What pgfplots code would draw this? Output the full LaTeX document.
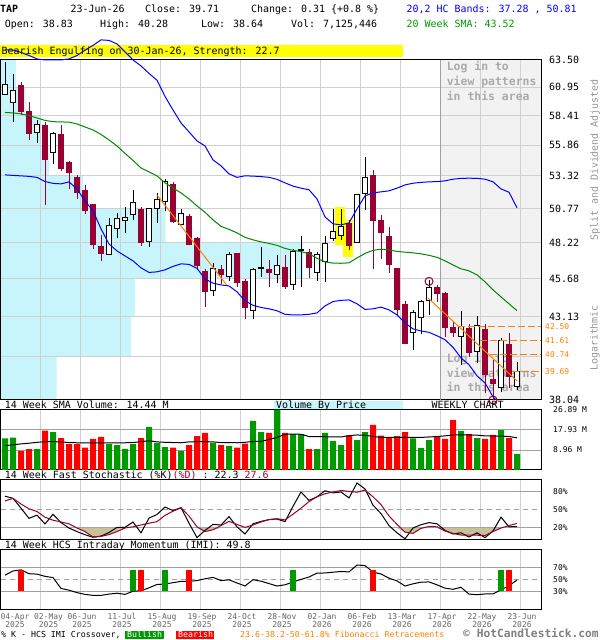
\documentclass[border=0pt]{standalone}
\usepackage{fontspec}
\setmainfont{DejaVu Sans Mono}
\usepackage{pgfplots}
\pgfplotsset{compat=1.18}
\usepackage{pgfplotstable}
\usepgfplotslibrary{fillbetween}

\definecolor{cred}{RGB}{153,0,51}
\definecolor{vred}{RGB}{255,0,0}
\definecolor{vgreen}{RGB}{0,153,0}
\definecolor{bblue}{RGB}{0,0,255}
\definecolor{sgreen}{RGB}{0,136,0}
\definecolor{vbp}{RGB}{200,245,252}
\definecolor{login}{RGB}{242,242,242}
\definecolor{loginline}{RGB}{160,160,160}
\definecolor{logintext}{RGB}{170,170,170}
\definecolor{gridc}{RGB}{208,208,208}
\definecolor{darkgrid}{RGB}{160,160,160}
\definecolor{fib}{RGB}{255,128,0}
\definecolor{tanc}{RGB}{200,192,150}
\definecolor{ylw}{RGB}{255,255,0}
\definecolor{dategray}{RGB}{100,100,100}
\definecolor{sidegray}{RGB}{150,150,150}
\definecolor{copygray}{RGB}{128,128,128}

\pgfplotstableread{
k O H L C
0 60.30 63.30 60.24 61.15
1 59.58 62.17 57.81 60.69
2 61.06 61.43 58.45 58.74
3 58.74 59.58 56.29 56.86
4 56.91 58.01 56.06 57.58
5 57.49 57.86 51.04 54.68
6 55.26 56.95 54.27 56.86
7 56.72 57.58 53.72 53.94
8 54.43 54.56 52.28 53.58
9 53.18 53.40 51.48 51.99
10 52.13 52.60 50.35 50.58
11 51.04 51.10 47.76 48.10
12 47.93 48.78 46.93 47.41
13 47.33 50.05 47.30 49.45
14 49.23 50.40 48.54 50.03
15 49.82 50.91 48.91 50.10
16 50.28 52.21 49.90 51.25
17 50.66 50.91 47.98 48.22
18 48.29 50.80 47.93 50.73
19 50.73 51.95 49.69 51.42
20 51.29 53.05 50.60 52.84
21 52.60 52.86 49.65 49.77
22 49.52 50.73 49.50 50.40
23 50.15 50.35 48.05 48.10
24 48.49 48.66 46.40 46.58
25 46.16 46.33 43.78 44.79
26 44.86 46.79 44.50 46.40
27 46.28 46.63 45.31 45.93
28 45.81 47.53 45.54 47.33
29 47.41 47.45 45.13 45.40
30 45.47 45.63 42.96 43.72
31 43.55 46.40 42.96 46.33
32 46.37 47.89 45.81 46.47
33 46.33 46.98 45.09 46.09
34 45.93 47.33 45.35 46.56
35 46.47 47.33 44.97 45.13
36 45.24 47.74 44.90 47.57
37 47.62 48.71 45.13 47.69
38 47.53 47.74 45.70 46.47
39 46.12 47.57 45.52 47.38
40 46.86 48.73 45.47 48.18
41 48.49 50.73 48.34 49.03
42 48.71 50.73 48.42 49.40
43 49.65 49.90 47.69 48.01
44 48.25 51.90 48.20 51.81
45 51.95 54.89 50.66 53.21
46 53.32 53.80 46.33 49.84
47 49.82 50.28 47.03 48.98
48 48.66 49.35 46.05 46.68
49 46.35 46.44 43.14 43.57
50 43.90 44.17 41.40 41.44
51 42.10 43.57 41.02 43.39
52 43.09 44.23 42.00 44.12
53 44.17 45.55 43.24 45.06
54 45.06 45.24 44.08 44.63
55 44.63 44.79 41.85 42.45
56 42.42 42.81 41.81 42.10
57 41.85 43.52 40.11 42.49
58 42.34 42.66 40.61 40.88
59 40.92 43.18 40.21 42.55
60 42.28 42.66 38.43 39.51
61 39.25 40.41 37.95 39.02
62 38.76 41.75 38.49 41.60
63 41.33 42.07 38.72 39.40
64 38.83 40.28 38.64 39.71
}\ohlc

\pgfplotstableread{
k U Lo S
0 64.46 53.40 58.67
1 64.46 53.36 58.63
2 64.22 53.32 58.54
3 63.93 53.28 58.38
4 63.60 53.20 58.19
5 63.50 52.87 57.97
6 63.50 52.72 57.86
7 63.50 52.68 57.84
8 63.60 52.84 57.82
9 63.92 52.28 57.66
10 64.44 51.35 57.40
11 64.91 50.58 57.14
12 65.45 49.23 56.76
13 65.40 48.12 56.29
14 65.05 47.62 55.78
15 64.27 47.26 55.16
16 63.50 46.91 54.58
17 62.93 46.42 53.96
18 62.22 46.10 53.64
19 61.59 46.14 53.32
20 60.10 46.28 52.76
21 58.89 46.52 52.36
22 57.75 46.70 51.97
23 56.97 46.66 51.50
24 56.20 46.38 50.96
25 55.78 45.65 50.47
26 54.62 45.36 49.90
27 54.13 45.24 49.41
28 53.48 45.17 49.19
29 53.20 44.77 48.93
30 53.32 44.17 48.60
31 53.30 43.87 48.42
32 53.26 43.73 48.27
33 53.20 43.64 48.16
34 53.04 43.51 48.02
35 52.76 43.28 47.80
36 52.50 43.24 47.66
37 52.34 43.24 47.57
38 52.21 43.28 47.41
39 51.50 43.37 47.09
40 50.12 43.83 46.84
41 49.60 44.12 46.75
42 49.52 44.20 46.74
43 49.67 44.23 46.77
44 50.73 43.97 47.12
45 51.73 43.60 47.44
46 51.97 43.64 47.66
47 52.05 43.75 47.74
48 52.13 43.57 47.69
49 52.34 43.24 47.58
50 52.60 42.72 47.53
51 52.73 42.34 47.48
52 52.80 42.21 47.41
53 52.84 42.12 47.30
54 52.86 41.90 47.16
55 52.92 41.65 46.91
56 53.05 41.18 46.63
57 53.12 40.53 46.35
58 53.13 40.11 46.21
59 53.12 39.45 45.93
60 53.05 39.03 45.45
61 52.84 38.22 44.90
62 52.28 37.77 44.43
63 52.02 37.49 43.97
64 50.81 37.28 43.52
}\bands

\pgfplotstableread{
k v
0 14.2
1 14.5
4 9.4
6 17.0
13 11.6
14 11.2
15 9.5
16 11.6
18 19.3
19 12.1
20 10.3
22 8.6
26 12.2
28 10.8
31 22.0
32 17.0
34 26.89
36 16.1
37 16.1
39 9.4
40 16.6
41 13.0
42 11.2
44 13.4
45 17.0
51 14.2
52 9.9
53 13.4
57 17.5
59 14.3
62 17.9
64 7.13
}\volg

\pgfplotstableread{
k v
2 8.6
3 9.4
5 17.6
7 14.3
8 11.6
9 11.6
10 10.0
11 14.0
12 14.8
17 14.3
21 10.0
23 11.2
24 15.2
25 16.6
27 11.2
29 10.0
30 11.8
33 16.6
35 16.6
38 9.4
43 15.5
46 20.2
47 15.4
48 14.5
49 15.2
50 17.0
54 15.2
55 14.0
56 22.4
58 16.1
60 14.0
61 15.7
63 14.3
}\volr

\pgfplotstableread{
k m
0 10.9
1 11.3
2 11.7
3 12.0
4 12.4
5 12.7
6 12.7
7 12.6
8 12.3
9 12.2
10 12.2
11 12.2
12 12.2
13 12.2
14 12.2
15 12.2
16 12.3
17 12.7
18 13.1
19 12.6
20 12.4
21 12.3
22 12.2
23 12.6
24 12.7
25 12.7
26 12.6
27 12.3
28 12.3
29 12.2
30 12.4
31 12.8
32 12.8
33 13.7
34 14.6
35 16.0
36 16.1
37 16.0
38 15.0
39 14.9
40 14.9
41 14.8
42 14.8
43 15.4
44 15.7
45 15.6
46 15.0
47 14.6
48 14.6
49 14.6
50 14.6
51 14.6
52 14.6
53 14.8
54 15.0
55 15.3
56 15.7
57 15.7
58 15.7
59 15.6
60 15.3
61 15.2
62 15.2
63 15.0
64 14.44
}\volsma

\pgfplotstableread{
k K D
0 73 65
1 69.5 69.4
2 53 60
3 36.1 52
4 41.5 47.5
5 26.7 38
6 42.8 33
7 29 30
8 20 27
9 14 20
10 8.8 14
11 4.5 5
12 6.5 6
13 12.5 9
14 21.1 14
15 21.1 20
16 30 22
17 12 25
18 36.5 28
19 42.5 30.6
20 55 41
21 49 48
22 54 53.5
23 28 40
24 4 22
25 16 14
26 26 17
27 25 24
28 38.9 31
29 22 26
30 10 21
31 27 25
32 31 30
33 34 34
34 35 35.5
35 30.6 33.5
36 56 43
37 80 53
38 66 64
39 72 72
40 82 77
41 78.5 80
42 80 82.5
43 70 81
44 95 79.7
45 85 83
46 58 72
47 44 59
48 24 40
49 12 26
50 2 13
51 20 11
52 25.5 19.4
53 29 22.5
54 27 22
55 16 15
56 10 11
57 12 8.3
58 5 8.3
59 12 8
60 4 7.4
61 15 14
62 38 20
63 22 24
64 22.3 27.6
}\stoch

\pgfplotstableread{
k I
0 58
1 65
2 67
3 60.5
4 59.8
5 56.1
6 54
7 36
8 33
9 29
10 26
11 24.4
12 24.4
13 26.5
14 28
15 26
16 31.3
17 32
18 37
19 42.5
20 43.3
21 45.5
22 47.8
23 47.8
24 49
25 52
26 54.4
27 49
28 50.3
29 45
30 40
31 50.5
32 48
33 44
34 40
35 42
36 46.7
37 51
38 55
39 61.5
40 61.7
41 63
42 64.2
43 63.5
44 75
45 74
46 63.3
47 60
48 53
49 48.5
50 40
51 43.6
52 46.4
53 46.8
54 42
55 36.4
56 34.5
57 37.8
58 26.5
59 25.5
60 26.7
61 27
62 33.5
63 40.7
64 49.8
}\imi

\pgfplotsset{
  panel/.style={
    scale only axis, width=540.5bp, xmin=-0.5625, xmax=67,
    anchor=south west,
    axis line style={black, line width=1bp},
    major tick length=0pt, minor tick length=0pt,
    xtick={4.375,9.375,...,64.375}, xticklabels={},
    xmajorgrids, ymajorgrids,
    major x grid style={gridc, line width=1bp},
    major y grid style={gridc, line width=1bp},
    yticklabel pos=right,
    set layers,
  },
  smalllab/.style={yticklabel style={anchor=west, inner sep=0pt, xshift=12bp, font=\fontsize{8}{9}\selectfont}},
}

\begin{document}
\begin{tikzpicture}[x=1bp,y=1bp]

% header
\begin{scope}[every node/.style={anchor=base west, inner sep=0pt, font=\fontsize{10}{12}\selectfont}]
\node at (0,627.3) {\bfseries TAP};
\node at (70.4,627.3) {23-Jun-26};
\node at (145,627.3) {Close: 39.71};
\node at (251,627.3) {Change: 0.31 \{+0.8 \%\}};
\node[text=bblue] at (406.5,627.3) {20,2 HC Bands: 37.28 , 50.81};
\node at (4.6,612.7) {Open: 38.83};
\node at (100,612.7) {High: 40.28};
\node at (201,612.7) {Low: 38.64};
\node at (291,612.7) {Vol: 7,125,446};
\node[text=vgreen] at (406.5,612.7) {20 Week SMA: 43.52};
\fill[ylw] (0,583.3) rectangle (403,595);
\node at (1.5,585) {Bearish Engulfing on 30-Jan-26, Strength: 22.7};
\end{scope}

% price panel
\begin{axis}[panel, at={(0.5bp,240bp)}, height=340bp, ymode=log, ymin=38.04, ymax=63.50,
  ytick={38.04,40.59,43.13,45.68,48.22,50.77,53.32,55.86,58.41,60.95,63.50},
  yticklabels={38.04,,43.13,45.68,48.22,50.77,53.32,55.86,58.41,60.95,63.50},
  yticklabel style={anchor=west, inner sep=0pt, xshift=8bp, font=\fontsize{10}{12}\selectfont},
  extra y ticks={39.69,40.74,41.61,42.50},
  extra y tick labels={39.69,40.74,41.61,42.50},
  extra y tick style={grid=none, yticklabel style={text=fib, font=\fontsize{8}{9}\selectfont, xshift=-4bp}},
]
% volume by price
\addplot[on layer=axis background, fill=vbp, draw=none] coordinates {
 (-0.5625,63.50) (1.375,63.50) (1.375,60.95) (2.59,60.95) (2.59,58.41) (4.375,58.41)
 (4.375,55.86) (5.5,55.86) (5.5,53.32) (9.75,53.32) (9.75,50.77) (20.09,50.77)
 (20.09,48.22) (37.25,48.22) (37.25,45.68) (16.25,45.68) (16.25,43.13) (15.75,43.13)
 (15.75,40.59) (6.46,40.59) (6.46,38.04) (-0.5625,38.04)};
% login area
\addplot[on layer=axis background, fill=login, draw=none] coordinates {
 (54.375,38.04) (67,38.04) (67,63.50) (54.375,63.50)};
\addplot[loginline, line width=1bp] coordinates {(54.375,38.04) (54.375,63.50)};
% pattern highlight
\addplot[fill=ylw, draw=none] coordinates {(41.25,50.88) (42.5,50.88) (42.5,48.05) (41.25,48.05)};
\addplot[fill=ylw, draw=none] coordinates {(42.25,49.90) (43.5,49.90) (43.5,47.19) (42.25,47.19)};
% login texts
\begin{scope}[every node/.style={anchor=base west, inner sep=0pt, text=logintext, font=\bfseries\fontsize{11.5}{13}\selectfont}]
\node at (axis cs:55.2,62.46) {Log in to};
\node at (axis cs:55.2,61.06) {view patterns};
\node at (axis cs:55.2,59.70) {in this area};
\node at (axis cs:55.2,40.23) {Log in to};
\node at (axis cs:55.2,39.33) {view patterns};
\node at (axis cs:55.2,38.51) {in this area};
\end{scope}
% candles
\pgfplotsforeachungrouped \i in {0,...,64}{%
  \pgfplotstablegetelem{\i}{O}\of\ohlc \let\vO\pgfplotsretval
  \pgfplotstablegetelem{\i}{H}\of\ohlc \let\vH\pgfplotsretval
  \pgfplotstablegetelem{\i}{L}\of\ohlc \let\vL\pgfplotsretval
  \pgfplotstablegetelem{\i}{C}\of\ohlc \let\vC\pgfplotsretval
  \pgfmathsetmacro\xl{\i-0.32}%
  \pgfmathsetmacro\xr{\i+0.32}%
  \ifdim\vC pt<\vO pt
    \def\wc{cred}\def\fc{cred}\def\dc{cred}%
  \else
    \def\wc{black}\def\fc{white}\def\dc{black}%
  \fi
  \edef\tmp{\noexpand\addplot[\wc, line width=1bp] coordinates {(\i,\vL) (\i,\vH)};
    \noexpand\addplot[fill=\fc, draw=\dc, line width=1bp] coordinates {(\xl,\vO) (\xr,\vO) (\xr,\vC) (\xl,\vC) (\xl,\vO)};}%
  \tmp
}
% lines
\addplot[bblue, line width=1bp] table[x=k, y=Lo] {\bands};
\addplot[sgreen, line width=1bp] table[x=k, y=S] {\bands};
\addplot[fib, line width=1bp] coordinates {(19,51.81) (27.7,45.24)};
\addplot[fib, line width=1bp] coordinates {(52.9,44.35) (64,39.15)};
\addplot[fib, line width=1.2bp, dash pattern=on 7bp off 3bp] coordinates {(56.6,42.50) (67,42.50)};
\addplot[fib, line width=1.2bp, dash pattern=on 7bp off 3bp] coordinates {(59.4,41.61) (67,41.61)};
\addplot[fib, line width=1.2bp, dash pattern=on 7bp off 3bp] coordinates {(60.6,40.74) (67,40.74)};
\addplot[fib, line width=1.2bp, dash pattern=on 7bp off 3bp] coordinates {(63.4,39.69) (67,39.69)};
\end{axis}

% unclipped overlay: upper band and markers
\begin{axis}[scale only axis, width=540.5bp, height=340bp, xmin=-0.5625, xmax=67,
  at={(0.5bp,240bp)}, anchor=south west, ymode=log, ymin=38.04, ymax=63.50,
  hide axis, clip=false]
\addplot[bblue, line width=1bp] table[x=k, y=U] {\bands};
\addplot[only marks, mark=o, mark size=4bp, mark options={cred, line width=1bp}] coordinates {(53,45.48) (61,38.04)};
\end{axis}

% volume panel
\begin{axis}[panel, smalllab, at={(0.5bp,170bp)}, height=60bp, ymin=0, ymax=26.89,
  ytick={8.96,17.93,26.89}, yticklabels={8.96 M,17.93 M,26.89 M},
  major y grid style={darkgrid, line width=1bp}]
\addplot[ybar, bar width=6bp, bar shift=0pt, fill=vgreen, draw=none] table[x=k, y=v] {\volg};
\addplot[ybar, bar width=6bp, bar shift=0pt, fill=vred, draw=none] table[x=k, y=v] {\volr};
\addplot[black, line width=1bp] table[x=k, y=m] {\volsma};
\end{axis}

% stochastic panel
\begin{axis}[panel, smalllab, at={(0.5bp,100bp)}, height=60bp, ymin=0, ymax=100,
  ytick={20,80}, yticklabels={20\%,80\%},
  major y grid style={darkgrid, line width=1bp},
  extra y ticks={50}, extra y tick labels={50\%},
  extra y tick style={major y grid style={darkgrid, line width=1bp, dash pattern=on 5bp off 4bp}}]
\addplot[name path=Dlo, draw=none] table[x=k, y expr={min(\thisrow{D},20)}] {\stoch};
\addplot[name path=L20, draw=none] coordinates {(0,20) (64,20)};
\addplot[fill=tanc, draw=none] fill between[of=Dlo and L20];
\addplot[name path=Dhi, draw=none] table[x=k, y expr={max(\thisrow{D},80)}] {\stoch};
\addplot[name path=L80, draw=none] coordinates {(0,80) (64,80)};
\addplot[fill=tanc, draw=none] fill between[of=Dhi and L80];
\addplot[black, line width=1bp] table[x=k, y=K] {\stoch};
\addplot[cred, line width=1bp] table[x=k, y=D] {\stoch};
\end{axis}

% IMI panel
\begin{axis}[panel, smalllab, at={(0.5bp,30bp)}, height=60bp, ymin=0, ymax=100,
  ytick={30,70}, yticklabels={30\%,70\%},
  major y grid style={darkgrid, line width=1bp},
  extra y ticks={50}, extra y tick labels={50\%},
  extra y tick style={major y grid style={darkgrid, line width=1bp, dash pattern=on 5bp off 4bp}},
  extra x ticks={1.25,5.4375,9.625,14.625,19.625,24.625,29.625,34.625,39.625,44.625,49.625,54.625,59.625,64.625},
  extra x tick labels={{04-Apr\\2025},{02-May\\2025},{06-Jun\\2025},{11-Jul\\2025},{15-Aug\\2025},{19-Sep\\2025},{24-Oct\\2025},{28-Nov\\2025},{02-Jan\\2026},{06-Feb\\2026},{13-Mar\\2026},{17-Apr\\2026},{22-May\\2026},{23-Jun\\2026}},
  extra x tick style={grid=none, xticklabel style={align=center, anchor=north, inner sep=0pt, yshift=-3bp, font=\fontsize{8}{8.3}\selectfont, text=dategray}}]
\addplot[black, line width=1bp] table[x=k, y=I] {\imi};
\addplot[vred, line width=6bp] coordinates {(2,31) (2,67)};
\addplot[vgreen, line width=6bp] coordinates {(16,31) (16,67)};
\addplot[vred, line width=6bp] coordinates {(17,31) (17,67)};
\addplot[vgreen, line width=6bp] coordinates {(20,31) (20,67)};
\addplot[vred, line width=6bp] coordinates {(23,31) (23,67)};
\addplot[vgreen, line width=6bp] coordinates {(36,31) (36,67)};
\addplot[vred, line width=6bp] coordinates {(46,31) (46,67)};
\addplot[vgreen, line width=6bp] coordinates {(62,31) (62,67)};
\addplot[vred, line width=6bp] coordinates {(63,31) (63,67)};
\end{axis}

% panel titles and footer
\begin{scope}[every node/.style={anchor=base west, inner sep=0pt, font=\fontsize{10}{12}\selectfont}]
\fill[vbp] (274,230.5) rectangle (403,239);
\node at (4.6,231) {14 Week SMA Volume: 14.44 M};
\node at (276,231) {Volume By Price};
\node at (431.5,231) {WEEKLY CHART};
\node at (4.6,161) {14 Week Fast Stochastic (\%K)\textcolor{cred}{(\%D)} : 22.3 \textcolor{cred}{27.6}};
\node at (4.6,91) {14 Week HCS Intraday Momentum (IMI): 49.8};
\end{scope}
\node[rotate=90, inner sep=0pt, text=sidegray, font=\fontsize{10}{12}\selectfont] at (595,480) {Split and Dividend Adjusted};
\node[rotate=90, inner sep=0pt, text=sidegray, font=\fontsize{10}{12}\selectfont] at (595,302) {Logarithmic};

\begin{scope}[every node/.style={anchor=base west, inner sep=0pt, font=\fontsize{8.3}{10}\selectfont}]
\node at (1,2) {\% K - HCS IMI Crossover,};
\fill[vgreen] (125,0.7) rectangle (163.5,9.3);
\node[text=white] at (127,2) {Bullish};
\fill[vred] (176,0.7) rectangle (213.5,9.3);
\node[text=white] at (178,2) {Bearish};
\node[text=fib] at (240,2) {23.6-38.2-50-61.8\% Fibonacci Retracements};
\node[text=copygray, font=\bfseries\fontsize{11.3}{13}\selectfont] at (463,2) {\textcopyright\ HotCandlestick.com};
\end{scope}

\pgfresetboundingbox
\path[use as bounding box] (0,0) rectangle (600,640);
\end{tikzpicture}
\end{document}
